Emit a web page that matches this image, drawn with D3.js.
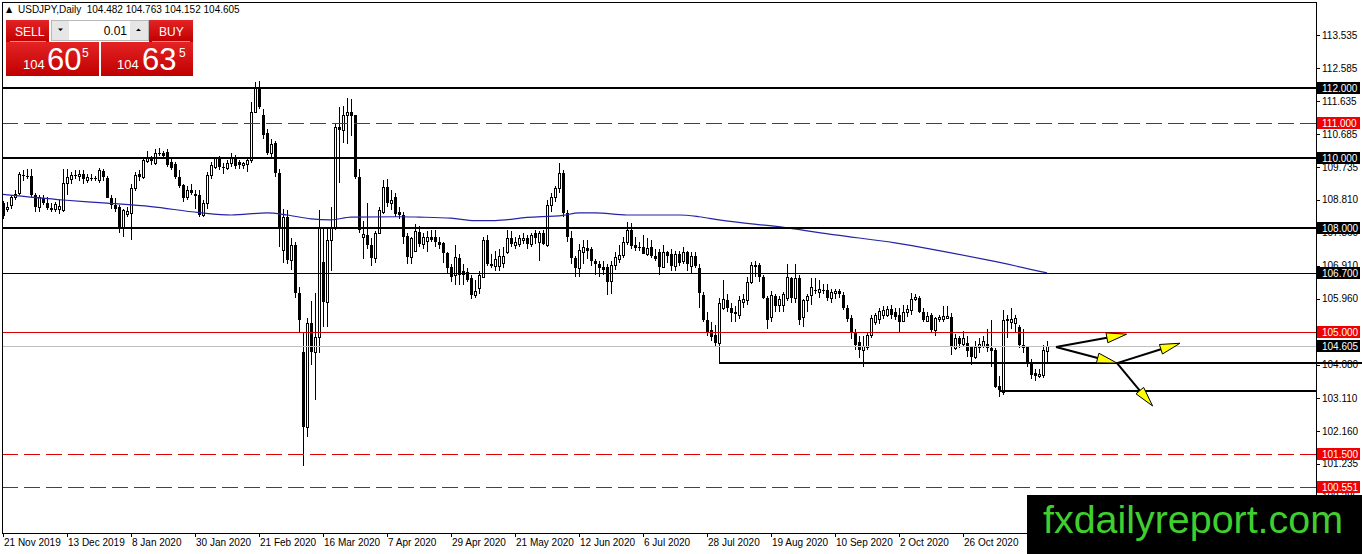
<!DOCTYPE html>
<html>
<head>
<meta charset="utf-8">
<script src="https://cdn.jsdelivr.net/npm/d3@7"></script>
<style>
  body { margin: 0; background: #fff; }
  svg { display: block; font-family: "Liberation Sans", Arial, sans-serif; }
</style>
</head>
<body>
<svg id="chart"></svg>
<script>
// USDJPY daily candles, 21 Nov 2019 -> 24 Nov 2020 (bar index 0..261)
const opens = [
  108.70,108.55,108.66,108.88,108.99,109.52,109.48,109.50,108.94,108.60,
  108.85,108.72,108.58,108.55,108.55,108.51,109.29,109.40,109.52,109.48,
  109.55,109.38,109.42,109.42,109.37,109.62,109.43,108.86,108.66,108.60,
  108.00,108.40,108.43,109.14,109.55,109.46,109.92,110.00,109.86,110.16,
  110.15,110.18,109.90,109.83,109.46,109.23,108.90,109.10,108.98,108.94,
  108.37,108.71,109.52,109.75,110.00,109.76,109.72,109.85,110.02,109.90,
  109.80,109.82,109.95,111.33,112.04,111.24,110.72,110.15,110.44,109.57,
  107.37,108.31,107.08,107.51,106.13,104.44,102.28,105.27,104.44,104.87,
  107.02,105.87,107.65,108.00,110.90,110.81,111.24,111.33,111.24,109.46,
  107.75,107.80,107.51,107.14,107.85,108.46,109.17,108.72,108.90,108.45,
  108.37,107.76,107.17,107.35,107.88,107.55,107.62,107.75,107.75,107.60,
  107.57,107.28,106.88,106.65,107.15,106.75,106.74,106.56,106.07,106.27,
  106.59,107.65,106.97,106.92,106.92,107.00,107.31,107.71,107.52,107.55,
  107.65,107.72,107.55,107.85,107.60,107.85,107.51,108.66,108.89,109.14,
  109.57,108.43,107.71,107.14,106.85,107.30,107.42,107.40,107.05,106.95,
  106.88,106.88,106.48,106.93,107.12,107.22,107.60,107.94,107.52,107.45,
  107.45,107.25,107.45,107.20,107.30,106.88,107.30,107.25,106.90,107.25,
  107.05,107.30,106.90,107.20,106.85,106.07,105.36,105.07,104.93,104.70,
  105.70,105.93,105.70,105.58,105.50,105.88,105.93,106.45,106.94,106.94,
  106.59,105.99,105.44,106.05,105.78,105.80,105.99,106.55,106.00,106.56,
  105.44,105.93,106.07,106.22,106.15,106.22,106.22,105.98,106.12,106.18,
  106.07,105.70,105.41,105.00,104.73,104.50,104.58,104.93,105.30,105.40,
  105.50,105.50,105.68,105.60,105.50,105.32,105.60,105.64,105.96,106.00,
  105.60,105.32,105.50,105.08,105.40,105.40,105.42,105.44,104.56,104.84,
  104.66,104.70,104.58,104.30,104.58,104.62,104.68,104.55,104.50,103.47,
  103.30,105.40,105.30,105.27,105.16,104.64,104.58,104.15,103.85,103.75,
  103.78,104.48
];
const highs = [
  108.78,108.75,108.95,109.10,109.60,109.65,109.70,109.70,109.00,108.95,
  108.95,108.90,108.70,108.75,108.80,109.70,109.70,109.60,109.65,109.65,
  109.65,109.55,109.55,109.50,109.72,109.68,109.50,108.95,108.85,108.65,
  108.55,108.60,109.25,109.60,109.65,110.00,110.20,110.05,110.25,110.30,
  110.20,110.25,110.00,109.90,109.65,109.25,109.20,109.25,109.10,109.10,
  108.80,109.60,109.90,110.02,110.05,109.85,109.95,110.15,110.10,109.95,
  109.90,110.00,111.60,112.20,112.22,111.40,110.85,110.55,110.50,109.70,
  108.55,108.50,107.70,107.60,106.30,105.00,105.41,105.90,106.13,108.51,
  108.00,108.00,108.60,111.00,111.47,111.50,111.73,111.70,111.25,109.70,
  108.20,108.70,107.70,107.90,108.60,109.37,109.40,109.10,109.00,108.60,
  108.45,107.85,107.75,108.10,108.05,107.85,107.90,107.95,107.95,107.75,
  107.60,107.30,106.95,107.50,107.25,106.95,106.85,106.65,106.50,106.75,
  107.75,107.80,107.25,107.35,107.40,107.45,107.95,107.90,107.75,107.80,
  107.85,107.80,107.85,107.95,107.90,107.95,108.80,109.00,109.20,109.86,
  109.65,108.50,107.90,107.20,107.55,107.65,107.65,107.45,107.10,107.05,
  107.05,106.95,107.05,107.30,107.50,107.75,108.17,108.15,107.75,107.60,
  107.80,107.70,107.65,107.40,107.40,107.50,107.35,107.40,107.35,107.35,
  107.45,107.35,107.30,107.30,106.95,106.15,105.60,105.30,105.20,106.00,
  106.50,106.10,105.85,105.75,106.05,106.10,106.60,107.02,107.05,107.00,
  106.65,106.05,106.20,106.10,106.05,106.15,106.95,106.60,106.96,106.65,
  105.95,106.10,106.55,106.55,106.50,106.40,106.40,106.25,106.25,106.25,
  106.15,105.80,105.50,105.10,104.90,104.90,105.00,105.50,105.55,105.70,
  105.75,105.75,105.80,105.70,105.70,105.80,105.80,106.13,106.10,106.05,
  105.70,105.60,105.55,105.45,105.50,105.75,105.75,105.55,104.95,104.90,
  105.05,104.90,104.60,104.75,104.85,104.90,105.10,105.36,104.55,103.75,
  105.64,105.50,105.70,105.50,105.20,105.10,104.60,104.25,103.95,103.95,
  104.65,104.76
];
const lows = [
  108.25,108.45,108.55,108.80,108.95,109.35,109.40,108.90,108.45,108.45,
  108.65,108.50,108.45,108.45,108.40,108.45,108.95,109.25,109.40,109.35,
  109.25,109.30,109.35,109.35,109.30,109.35,108.85,108.55,108.45,107.85,
  107.75,108.30,107.65,109.05,109.35,109.40,109.85,109.80,109.80,110.05,
  110.00,109.75,109.65,109.40,109.15,108.75,108.80,108.95,108.55,108.30,
  108.30,108.55,109.40,109.70,109.65,109.55,109.65,109.75,109.70,109.70,
  109.70,109.60,109.85,111.30,111.40,110.55,110.10,110.00,109.45,107.45,
  107.00,106.95,106.80,106.00,104.98,101.18,102.00,104.07,103.06,104.40,
  105.15,105.15,106.75,107.95,109.30,110.45,110.40,110.65,109.40,107.85,
  107.10,107.40,106.90,107.00,107.85,108.40,108.60,108.50,108.30,108.25,
  107.55,106.95,106.95,107.30,107.45,107.40,107.30,107.60,107.45,107.40,
  107.00,106.70,106.45,106.35,106.35,106.35,106.45,105.95,106.00,106.10,
  106.55,106.90,106.85,106.75,106.75,106.85,107.25,107.45,107.40,107.45,
  107.55,107.40,107.45,107.55,107.05,107.50,107.45,108.45,108.75,109.00,
  108.30,107.60,106.95,106.60,106.60,106.95,107.10,106.90,106.65,106.60,
  106.65,106.07,106.10,106.80,107.00,107.15,107.50,107.40,107.35,107.35,
  107.25,107.20,107.15,107.05,106.65,106.85,107.00,106.75,106.75,106.90,
  106.95,106.75,106.70,106.85,105.70,105.30,104.90,104.75,104.58,104.15,
  105.65,105.60,105.30,105.30,105.40,105.70,105.80,106.40,106.60,106.45,
  105.95,105.10,105.30,105.60,105.60,105.60,105.90,105.85,105.85,105.20,
  105.15,105.60,105.80,106.10,106.00,106.10,105.90,105.85,105.95,106.00,
  105.65,105.30,104.80,104.50,104.27,104.00,104.50,104.85,105.20,105.25,
  105.40,105.45,105.40,105.35,104.98,105.30,105.45,105.50,105.90,105.55,
  105.30,105.30,105.00,104.90,105.30,105.30,105.40,104.35,104.50,104.55,
  104.60,104.30,104.07,104.25,104.40,104.55,104.45,104.00,103.40,103.15,
  103.20,104.85,105.10,105.00,104.55,104.40,104.00,103.65,103.60,103.70,
  103.70,104.15
];
const closes = [
  108.35,108.60,108.88,108.98,109.55,109.48,109.45,108.94,108.60,108.88,
  108.70,108.58,108.52,108.68,108.62,109.29,109.45,109.52,109.48,109.55,
  109.40,109.45,109.44,109.40,109.66,109.45,108.86,108.66,108.55,108.00,
  108.50,108.48,109.14,109.52,109.45,109.95,110.00,109.92,110.15,110.14,
  110.05,109.80,109.72,109.46,109.20,108.86,109.10,109.00,108.92,108.37,
  108.71,109.52,109.80,110.00,109.75,109.72,109.85,110.02,109.78,109.80,
  109.85,109.95,111.33,112.04,111.47,110.66,110.15,110.40,109.57,108.00,
  108.31,107.08,107.51,106.13,105.36,102.28,105.27,104.44,104.87,107.99,
  105.87,107.65,108.03,110.90,110.81,111.24,111.33,111.20,109.46,107.94,
  107.82,107.51,107.14,107.85,108.51,109.17,108.70,108.80,108.40,108.37,
  107.74,107.17,107.70,107.90,107.55,107.75,107.75,107.65,107.60,107.50,
  107.28,106.85,106.59,107.17,106.65,106.65,106.50,106.07,106.20,106.65,
  107.65,106.97,106.90,107.10,107.20,107.20,107.71,107.55,107.60,107.70,
  107.72,107.55,107.80,107.70,107.85,107.55,108.66,108.89,109.14,109.57,
  108.43,107.74,107.14,106.85,107.37,107.45,107.35,107.05,106.95,106.85,
  106.78,106.45,106.93,107.17,107.22,107.60,107.94,107.48,107.42,107.43,
  107.25,107.42,107.20,107.10,106.88,107.30,107.20,106.90,107.25,107.00,
  107.30,106.95,107.20,106.90,106.13,105.36,105.00,104.87,104.70,105.84,
  105.95,105.70,105.55,105.52,105.93,105.95,106.45,106.94,106.88,106.60,
  105.99,105.36,106.07,105.76,105.95,106.10,106.59,106.00,106.56,105.36,
  105.93,106.05,106.30,106.18,106.25,106.20,106.00,106.15,106.18,106.10,
  105.70,105.40,105.00,104.65,104.50,104.60,104.93,105.41,105.50,105.62,
  105.65,105.68,105.50,105.45,105.30,105.60,105.66,105.96,106.02,105.58,
  105.35,105.48,105.08,105.42,105.44,105.46,105.46,104.58,104.84,104.68,
  104.85,104.47,104.30,104.58,104.68,104.75,104.55,104.48,103.44,103.35,
  105.36,105.33,105.38,105.41,104.64,104.55,104.15,103.78,103.75,103.82,
  104.50,104.61
];

// moving average (blue) read at a few bars
const maBars = [0,15,26,37,49,57,66,71,77,82,87,99,104,112,118,123,131,140,144,148,156,169,174,179,196,208,223,233,246,261];
const maValues = [108.96,108.80,108.71,108.61,108.44,108.37,108.43,108.37,108.26,108.23,108.31,108.32,108.31,108.28,108.21,108.21,108.30,108.36,108.43,108.43,108.37,108.37,108.32,108.23,108.00,107.80,107.57,107.37,107.08,106.71];

// time axis (the next label sits under the watermark)
const dateTickBars = [0,16,32,48,64,80,96,112,128,144,160,176,192,208,224,240];
const dateTickLabels = ["21 Nov 2019","13 Dec 2019","8 Jan 2020","30 Jan 2020","21 Feb 2020","16 Mar 2020","7 Apr 2020","29 Apr 2020","21 May 2020","12 Jun 2020","6 Jul 2020","28 Jul 2020","19 Aug 2020","10 Sep 2020","2 Oct 2020","26 Oct 2020"];

// price axis
const priceTicks = [113.535,112.585,111.635,110.685,109.735,108.810,107.860,106.910,105.960,105.010,104.080,103.110,102.160,101.235,100.285];

// horizontal levels
const thickLevels = [112.000, 110.000, 108.000];
const thinLevels = [106.700];
const redSolidLevels = [105.000];
const redDashedLevels = [111.000, 101.500, 100.551];
const bidPrice = 104.605;
const supportPrices = [104.115, 103.33];
const supportFromBar = [179, 249];

// price labels on the axis
const blackLabelPrices = [112.000, 110.000, 108.000, 106.700, 104.605];
const redLabelPrices = [111.000, 105.000, 101.500, 100.551];

// scenario arrows: [bar, price] from -> to
const arrowFrom = [[263.25,104.58],[263.25,104.58],[278.5,104.12],[278.5,104.12]];
const arrowTo   = [[280.9,104.95],[278.5,104.12],[294.25,104.69],[287.4,102.89]];

const header = "USDJPY,Daily  104.482 104.763 104.152 104.605";

const W = 1362, H = 554;
const plotL = 2, plotR = 1316, plotT = 2, plotB = 533;

const svg = d3.select("#chart").attr("width", W).attr("height", H);

const x = d3.scaleLinear().domain([0, 261]).range([3, 1047]);
const y = d3.scaleLinear().domain([99.245, 114.482]).range([plotB, plotT]);

const defs = svg.append("defs");
defs.append("clipPath").attr("id", "plot")
  .append("rect").attr("x", plotL).attr("y", plotT)
  .attr("width", plotR - plotL).attr("height", plotB - plotT);

const grad = defs.append("linearGradient").attr("id", "redgrad")
  .attr("x1", 0).attr("y1", 0).attr("x2", 0).attr("y2", 1);
grad.append("stop").attr("offset", "0%").attr("stop-color", "#e42424");
grad.append("stop").attr("offset", "100%").attr("stop-color", "#c00000");

// red dash pattern for the dashed levels
const pat = defs.append("pattern").attr("id", "reddash")
  .attr("patternUnits", "userSpaceOnUse")
  .attr("x", plotL).attr("y", 0).attr("width", 22).attr("height", 2);
pat.append("rect").attr("x", 0).attr("y", 0).attr("width", 16).attr("height", 2).attr("fill", "#e00000");

const plot = svg.append("g").attr("clip-path", "url(#plot)");

// candles
const bars = d3.range(opens.length).map(i => ({
  i: i, o: opens[i], h: highs[i], l: lows[i], c: closes[i]
}));

const candle = plot.append("g").attr("shape-rendering", "crispEdges")
  .selectAll("g").data(bars).join("g");

candle.append("line")
  .attr("x1", d => Math.round(x(d.i)) + 0.5)
  .attr("x2", d => Math.round(x(d.i)) + 0.5)
  .attr("y1", d => Math.round(y(d.h)))
  .attr("y2", d => Math.round(y(d.l)))
  .attr("stroke", "#000").attr("stroke-width", 1);

candle.append("rect")
  .attr("x", d => d.c >= d.o ? Math.round(x(d.i)) - 0.5 : Math.round(x(d.i)) - 1)
  .attr("y", d => {
    const top = Math.round(y(Math.max(d.o, d.c)));
    return d.c >= d.o ? top + 0.5 : top;
  })
  .attr("width", d => d.c >= d.o ? 2 : 3)
  .attr("height", d => {
    const hgt = Math.round(y(Math.min(d.o, d.c))) - Math.round(y(Math.max(d.o, d.c)));
    return d.c >= d.o ? Math.max(hgt, 0.01) : Math.max(hgt, 1);
  })
  .attr("fill", d => d.c >= d.o ? "#fff" : "#000")
  .attr("stroke", d => d.c >= d.o ? "#000" : "none")
  .attr("stroke-width", 1);

// moving average
const maLine = d3.line()
  .x((d, k) => x(maBars[k]))
  .y(d => y(d))
  .curve(d3.curveMonotoneX);
plot.append("path").datum(maValues)
  .attr("d", maLine)
  .attr("fill", "none")
  .attr("stroke", "#2424a6")
  .attr("stroke-width", 1.2);

// horizontal levels
const lines = svg.append("g");

lines.selectAll("line.bid").data([bidPrice]).join("line").attr("class", "bid")
  .attr("x1", plotL).attr("x2", plotR)
  .attr("y1", d => Math.round(y(d)) + 0.5).attr("y2", d => Math.round(y(d)) + 0.5)
  .attr("stroke", "#c0c0c0").attr("stroke-width", 1);

lines.selectAll("line.thick").data(thickLevels).join("line").attr("class", "thick")
  .attr("x1", plotL).attr("x2", plotR)
  .attr("y1", d => Math.round(y(d))).attr("y2", d => Math.round(y(d)))
  .attr("stroke", "#000").attr("stroke-width", 2);

lines.selectAll("line.thin").data(thinLevels).join("line").attr("class", "thin")
  .attr("x1", plotL).attr("x2", plotR)
  .attr("y1", d => Math.round(y(d)) + 0.5).attr("y2", d => Math.round(y(d)) + 0.5)
  .attr("stroke", "#000").attr("stroke-width", 1);

lines.selectAll("line.redsolid").data(redSolidLevels).join("line").attr("class", "redsolid")
  .attr("x1", plotL).attr("x2", plotR)
  .attr("y1", d => Math.round(y(d)) + 0.5).attr("y2", d => Math.round(y(d)) + 0.5)
  .attr("stroke", "#d80000").attr("stroke-width", 1);

lines.selectAll("rect.reddash").data(redDashedLevels).join("rect").attr("class", "reddash")
  .attr("x", plotL).attr("width", plotR - plotL)
  .attr("y", d => Math.round(y(d))).attr("height", 1)
  .attr("fill", "url(#reddash)");

// support lines (the first one runs over the price scale)
lines.selectAll("line.support").data(supportPrices).join("line").attr("class", "support")
  .attr("x1", (d, k) => x(supportFromBar[k]))
  .attr("x2", (d, k) => k === 0 ? W : plotR)
  .attr("y1", d => Math.round(y(d))).attr("y2", d => Math.round(y(d)))
  .attr("stroke", "#000").attr("stroke-width", 2);

// arrows
const arrows = svg.append("g");
arrowFrom.forEach((a, k) => {
  const x0 = x(a[0]), y0 = y(a[1]);
  const x1 = x(arrowTo[k][0]), y1 = y(arrowTo[k][1]);
  const ang = Math.atan2(y1 - y0, x1 - x0);
  const len = 20, half = 5;
  const bx = x1 - len * Math.cos(ang), by = y1 - len * Math.sin(ang);
  arrows.append("line")
    .attr("x1", x0).attr("y1", y0).attr("x2", bx).attr("y2", by)
    .attr("stroke", "#000").attr("stroke-width", 2);
  const px = -Math.sin(ang) * half, py = Math.cos(ang) * half;
  arrows.append("path")
    .attr("d", `M${x1},${y1}L${bx + px},${by + py}L${bx - px},${by - py}Z`)
    .attr("fill", "#ffff00").attr("stroke", "#000").attr("stroke-width", 1);
});

// frame
svg.append("rect")
  .attr("x", plotL + 0.5).attr("y", plotT + 0.5)
  .attr("width", plotR - plotL).attr("height", plotB - plotT)
  .attr("fill", "none").attr("stroke", "#000").attr("stroke-width", 1)
  .attr("shape-rendering", "crispEdges");

// price axis
const pAxis = svg.append("g").attr("font-size", 10).attr("fill", "#000");
pAxis.selectAll("line").data(priceTicks).join("line")
  .attr("x1", plotR).attr("x2", plotR + 4)
  .attr("y1", d => Math.round(y(d)) + 0.5).attr("y2", d => Math.round(y(d)) + 0.5)
  .attr("stroke", "#000").attr("shape-rendering", "crispEdges");
pAxis.selectAll("text").data(priceTicks).join("text")
  .attr("x", plotR + 6).attr("y", d => y(d) + 3.5)
  .text(d => d.toFixed(3));

// price labels
function priceBox(vals, color) {
  const g = svg.append("g");
  g.selectAll("rect").data(vals).join("rect")
    .attr("x", plotR + 1).attr("y", d => Math.round(y(d)) - 6)
    .attr("width", 43).attr("height", 12)
    .attr("fill", color);
  g.selectAll("text").data(vals).join("text")
    .attr("x", plotR + 6).attr("y", d => Math.round(y(d)) + 4)
    .attr("font-size", 10).attr("fill", "#fff")
    .text(d => d.toFixed(3));
}
priceBox(blackLabelPrices, "#000");
priceBox(redLabelPrices, "#f00000");

// time axis
const tAxis = svg.append("g").attr("font-size", 10).attr("fill", "#000");
tAxis.selectAll("line").data(dateTickBars).join("line")
  .attr("x1", d => Math.round(x(d)) + 0.5).attr("x2", d => Math.round(x(d)) + 0.5)
  .attr("y1", plotB).attr("y2", plotB + 4)
  .attr("stroke", "#000").attr("shape-rendering", "crispEdges");
tAxis.selectAll("text").data(dateTickBars).join("text")
  .attr("x", d => x(d) + 1).attr("y", plotB + 13)
  .text((d, k) => dateTickLabels[k]);

// header
svg.append("text").attr("x", 6).attr("y", 12).attr("font-size", 8)
  .attr("font-family", "DejaVu Sans").text("▲");
svg.append("text").attr("x", 18).attr("y", 13).attr("font-size", 10)
  .style("white-space", "pre").text(header);

// one-click trading panel
const panel = svg.append("g");
panel.append("rect").attr("x", 6).attr("y", 20).attr("width", 43).attr("height", 22).attr("fill", "url(#redgrad)");
panel.append("rect").attr("x", 149).attr("y", 20).attr("width", 44).attr("height", 22).attr("fill", "url(#redgrad)");
panel.append("rect").attr("x", 6).attr("y", 42).attr("width", 93).attr("height", 34).attr("fill", "url(#redgrad)");
panel.append("rect").attr("x", 101).attr("y", 42).attr("width", 92).attr("height", 34).attr("fill", "url(#redgrad)");
panel.append("line").attr("x1", 10).attr("x2", 46).attr("y1", 41.5).attr("y2", 41.5).attr("stroke", "#f08a8a");
panel.append("line").attr("x1", 152).attr("x2", 190).attr("y1", 41.5).attr("y2", 41.5).attr("stroke", "#f08a8a");
panel.append("rect").attr("x", 51.5).attr("y", 20.5).attr("width", 97).attr("height", 20).attr("fill", "#fff").attr("stroke", "#b8b8b8");
panel.append("rect").attr("x", 52).attr("y", 21).attr("width", 17).attr("height", 19).attr("fill", "#e6e6e6");
panel.append("rect").attr("x", 130).attr("y", 21).attr("width", 18).attr("height", 19).attr("fill", "#e6e6e6");
panel.append("path").attr("d", "M58,28.5L63,28.5L60.5,31Z").attr("fill", "#000");
panel.append("path").attr("d", "M136,31L141,31L138.5,28.5Z").attr("fill", "#000");
panel.append("text").attr("x", 127).attr("y", 35).attr("text-anchor", "end").attr("font-size", 12).text("0.01");
panel.append("text").attr("x", 15).attr("y", 36).attr("font-size", 12).attr("fill", "#fff").text("SELL");
panel.append("text").attr("x", 159).attr("y", 36).attr("font-size", 12).attr("fill", "#fff").text("BUY");
[["104", "60", "5", 23, 47, 82], ["104", "63", "5", 117, 142, 179]].forEach(p => {
  panel.append("text").attr("x", p[3]).attr("y", 69).attr("font-size", 13).attr("fill", "#fff").text(p[0]);
  panel.append("text").attr("x", p[4]).attr("y", 70).attr("font-size", 31).attr("fill", "#fff").text(p[1]);
  panel.append("text").attr("x", p[5]).attr("y", 57).attr("font-size", 12).attr("fill", "#fff").text(p[2]);
});

// watermark
svg.append("rect").attr("x", 1027).attr("y", 495).attr("width", W - 1027).attr("height", H - 495).attr("fill", "#000");
svg.append("text").attr("x", 1043).attr("y", 533)
  .attr("font-size", 38).attr("fill", "#3fcf2f")
  .attr("textLength", 300).attr("lengthAdjust", "spacingAndGlyphs")
  .text("fxdailyreport.com");
</script>
</body>
</html>
